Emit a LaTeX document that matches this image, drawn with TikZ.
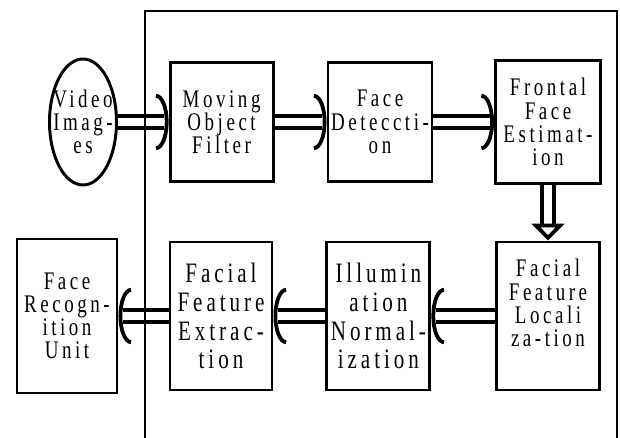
\documentclass[tikz,border=0pt]{standalone}
\usepackage{fontspec}
\newfontfamily\blockfont[FakeStretch=0.75, LetterSpace=14]{Liberation Serif}
\usetikzlibrary{shapes, arrows.meta, positioning}

\begin{document}
\begin{tikzpicture}[
  block/.style={draw, line width=2.1pt, inner sep=0pt, align=center,
                font=\blockfont\fontsize{18pt}{16.5pt}\selectfont},
  bigblock/.style={block, font=\blockfont\fontsize{20pt}{20.5pt}\selectfont},
  flow/.style={double, double distance=5.5pt, line width=2.7pt, shorten >=3pt,
               postaction={draw=white, line width=5.5pt, shorten >=0pt,
                           -{Arc Barb[length=9pt, width=40pt, line width=2.7pt, color=black]}}},
  downflow/.style={double, double distance=5.5pt, line width=2.7pt, shorten >=11pt,
               postaction={draw=white, line width=5.5pt, shorten >=0pt,
                           -{Triangle[open, length=12pt, width=23pt, line width=2.7pt, color=black]}}},
]
\useasboundingbox (0,0) rectangle (15.5,10.95);

% Upper row
\node[draw, ellipse, line width=2.1pt, minimum width=1.675cm, minimum height=3.15cm, inner sep=0pt,
      label={[align=center, font=\blockfont\fontsize{18pt}{16.5pt}\selectfont]center:{Video\\Imag-\\es}}]
      (vid) at (2.075, 7.9) {};
\node[block, minimum width=2.575cm, minimum height=2.975cm] (mof) at (5.54, 7.9) {Moving\\Object\\Filter};
\node[block, minimum width=2.6cm, minimum height=2.975cm] (fdet) at (9.5, 7.9) {Face\\Deteccti-\\on};
\node[block, minimum width=2.625cm, minimum height=3.075cm] (ffe) at (13.7, 7.9) {Frontal\\Face\\Estimat-\\ion};

% Lower row
\node[block, minimum width=2.575cm, minimum height=3.7cm] (ffl) at (13.7, 3.05) {Facial\\Feature\\Locali\\za-tion\\[2pt]\mbox{}};
\node[bigblock, minimum width=2.575cm, minimum height=3.7cm] (illum) at (9.46, 3.05) {Illumin\\ation\\Normal-\\ization};
\node[bigblock, minimum width=2.55cm, minimum height=3.7cm] (fext) at (5.525, 3.05) {Facial\\Feature\\Extrac-\\tion};
\node[block, minimum width=2.5cm, minimum height=3.85cm] (frec) at (1.675, 3.05) {Face\\Recogn-\\ition\\Unit};

% Flow
\draw[flow] (vid) -- (mof);
\draw[flow] (mof) -- (fdet);
\draw[flow] (fdet) -- (ffe);
\draw[downflow] (ffe) -- (ffl);
\draw[flow] (ffl) -- (illum);
\draw[flow] (illum) -- (fext);
\draw[flow] (fext) -- (frec);

% System frame
\draw[line width=2pt] (3.625, 0) -- (3.625, 10.675) -- (15.425, 10.675) -- (15.425, 0);
\end{tikzpicture}
\end{document}
